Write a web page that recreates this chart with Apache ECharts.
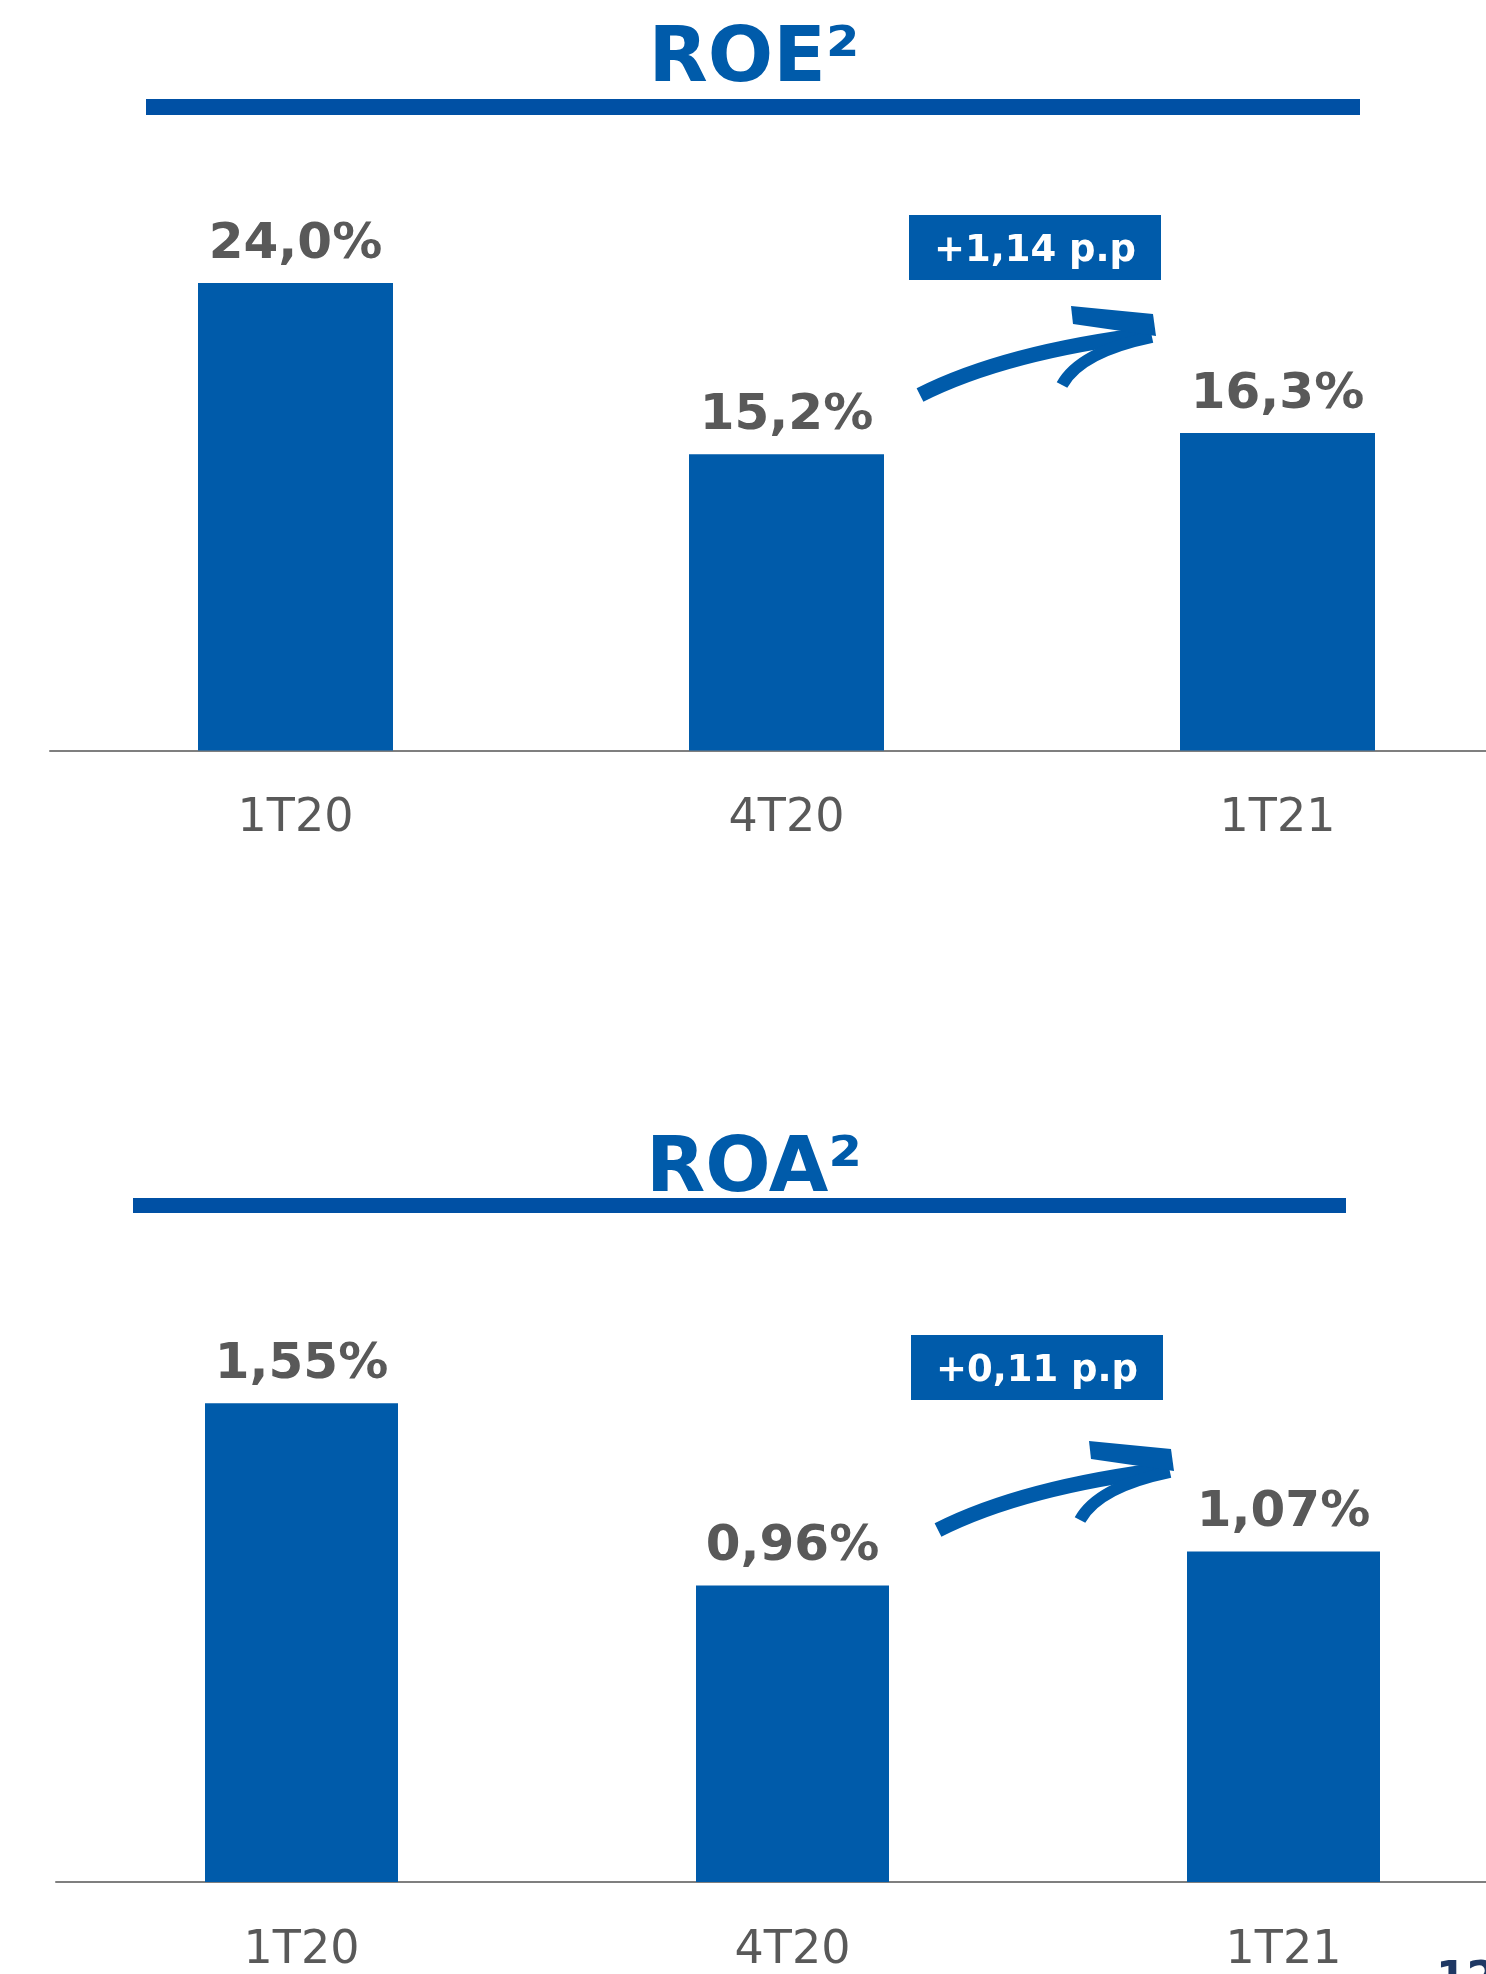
<!DOCTYPE html>
<html>
<head>
<meta charset="utf-8">
<script src="https://cdn.jsdelivr.net/npm/echarts@6/dist/echarts.min.js"></script>
<style>
  html, body { margin: 0; padding: 0; background: #fff; overflow: hidden; }
  /* a área do gráfico passa da janela à direita, como no slide original */
  #chart { width: 1540px; height: 1974px; }
</style>
</head>
<body>
<div id="chart"></div>
<script>
// data
const categories = ["1T20", "4T20", "1T21"];
const roeValues = [24.0, 15.2, 16.3];
const roaValues = [1.55, 0.96, 1.07];
const roeDecimals = 1;
const roaDecimals = 2;
const roeDelta = "+1,14 p.p";
const roaDelta = "+0,11 p.p";
const roeTitle = "ROE²";
const roaTitle = "ROA²";
const pageNumber = "12";

const BLUE = "#005BAA";
const LINE_BLUE = "#0050A4";
const GREY = "#595959";
const FONT = "DejaVu Sans";

const fmt = (d) => (p) => p.value.toFixed(d).replace(".", ",") + "%";

// seta desenhada (pinceladas)
const arrow = (dx, dy) => ({
  type: "group",
  x: dx,
  y: dy,
  children: [
    {
      type: "bezierCurve",
      shape: { x1: 920, y1: 395, cpx1: 1005, cpy1: 352, x2: 1150, y2: 334 },
      style: { stroke: BLUE, lineWidth: 15, fill: null, lineCap: "butt" }
    },
    {
      type: "bezierCurve",
      shape: { x1: 1062, y1: 385, cpx1: 1080, cpy1: 352, x2: 1152, y2: 337 },
      style: { stroke: BLUE, lineWidth: 12, fill: null, lineCap: "butt" }
    },
    {
      type: "polygon",
      shape: { points: [[1071, 306], [1153, 314], [1156, 336], [1073, 324]] },
      style: { fill: BLUE }
    }
  ]
});

const deltaBox = (x, y, txt) => ({
  type: "group",
  x: x,
  y: y,
  children: [
    { type: "rect", shape: { x: 0, y: 0, width: 252, height: 65 }, style: { fill: BLUE } },
    {
      type: "text",
      x: 126,
      y: 36,
      style: { text: txt, fill: "#fff", font: "bold 37px '" + FONT + "'", align: "center", verticalAlign: "middle" }
    }
  ]
});

const titleText = (x, y, txt) => ({
  type: "text",
  x: x,
  y: y,
  style: { text: txt, fill: BLUE, font: "bold 77px '" + FONT + "'", align: "center", verticalAlign: "middle" }
});

const chart = echarts.init(document.getElementById("chart"));

const xAxisBase = {
  type: "category",
  data: categories,
  axisLine: { lineStyle: { color: "#7F7F7F", width: 2 } },
  axisTick: { show: false },
  axisLabel: { fontSize: 46, color: GREY, fontFamily: FONT, margin: 46 }
};

const option = {
  animation: false,
  backgroundColor: "#fff",
  grid: [
    { left: 50, width: 1473, top: 166, height: 584.5 },
    { left: 56, width: 1473, top: 1295, height: 593 }
  ],
  xAxis: [
    Object.assign({ gridIndex: 0 }, xAxisBase),
    Object.assign({ gridIndex: 1 }, xAxisBase)
  ],
  yAxis: [
    { gridIndex: 0, type: "value", min: 0, max: 30, show: false },
    { gridIndex: 1, type: "value", min: 0, max: 1.9, show: false }
  ],
  series: [
    {
      type: "bar",
      xAxisIndex: 0,
      yAxisIndex: 0,
      data: roeValues,
      barWidth: 195,
      itemStyle: { color: BLUE },
      label: {
        show: true,
        position: "top",
        distance: 13,
        formatter: fmt(roeDecimals),
        fontSize: 50,
        fontWeight: "bold",
        fontFamily: FONT,
        color: GREY
      }
    },
    {
      type: "bar",
      xAxisIndex: 1,
      yAxisIndex: 1,
      data: roaValues,
      barWidth: 193,
      itemStyle: { color: BLUE },
      label: {
        show: true,
        position: "top",
        distance: 13,
        formatter: fmt(roaDecimals),
        fontSize: 50,
        fontWeight: "bold",
        fontFamily: FONT,
        color: GREY
      }
    }
  ],
  graphic: [
    titleText(754, 61, roeTitle),
    { type: "rect", shape: { x: 146, y: 99, width: 1214, height: 16 }, style: { fill: LINE_BLUE } },
    titleText(754, 1171, roaTitle),
    { type: "rect", shape: { x: 133, y: 1198, width: 1213, height: 15 }, style: { fill: LINE_BLUE } },
    deltaBox(909, 215, roeDelta),
    deltaBox(911, 1335, roaDelta),
    arrow(0, 0),
    arrow(18, 1135),
    {
      type: "text",
      x: 1436,
      y: 1960,
      style: { text: pageNumber, fill: "#1F3864", font: "bold 44px '" + FONT + "'", align: "left", verticalAlign: "top" }
    }
  ]
};

chart.setOption(option);
</script>
</body>
</html>
